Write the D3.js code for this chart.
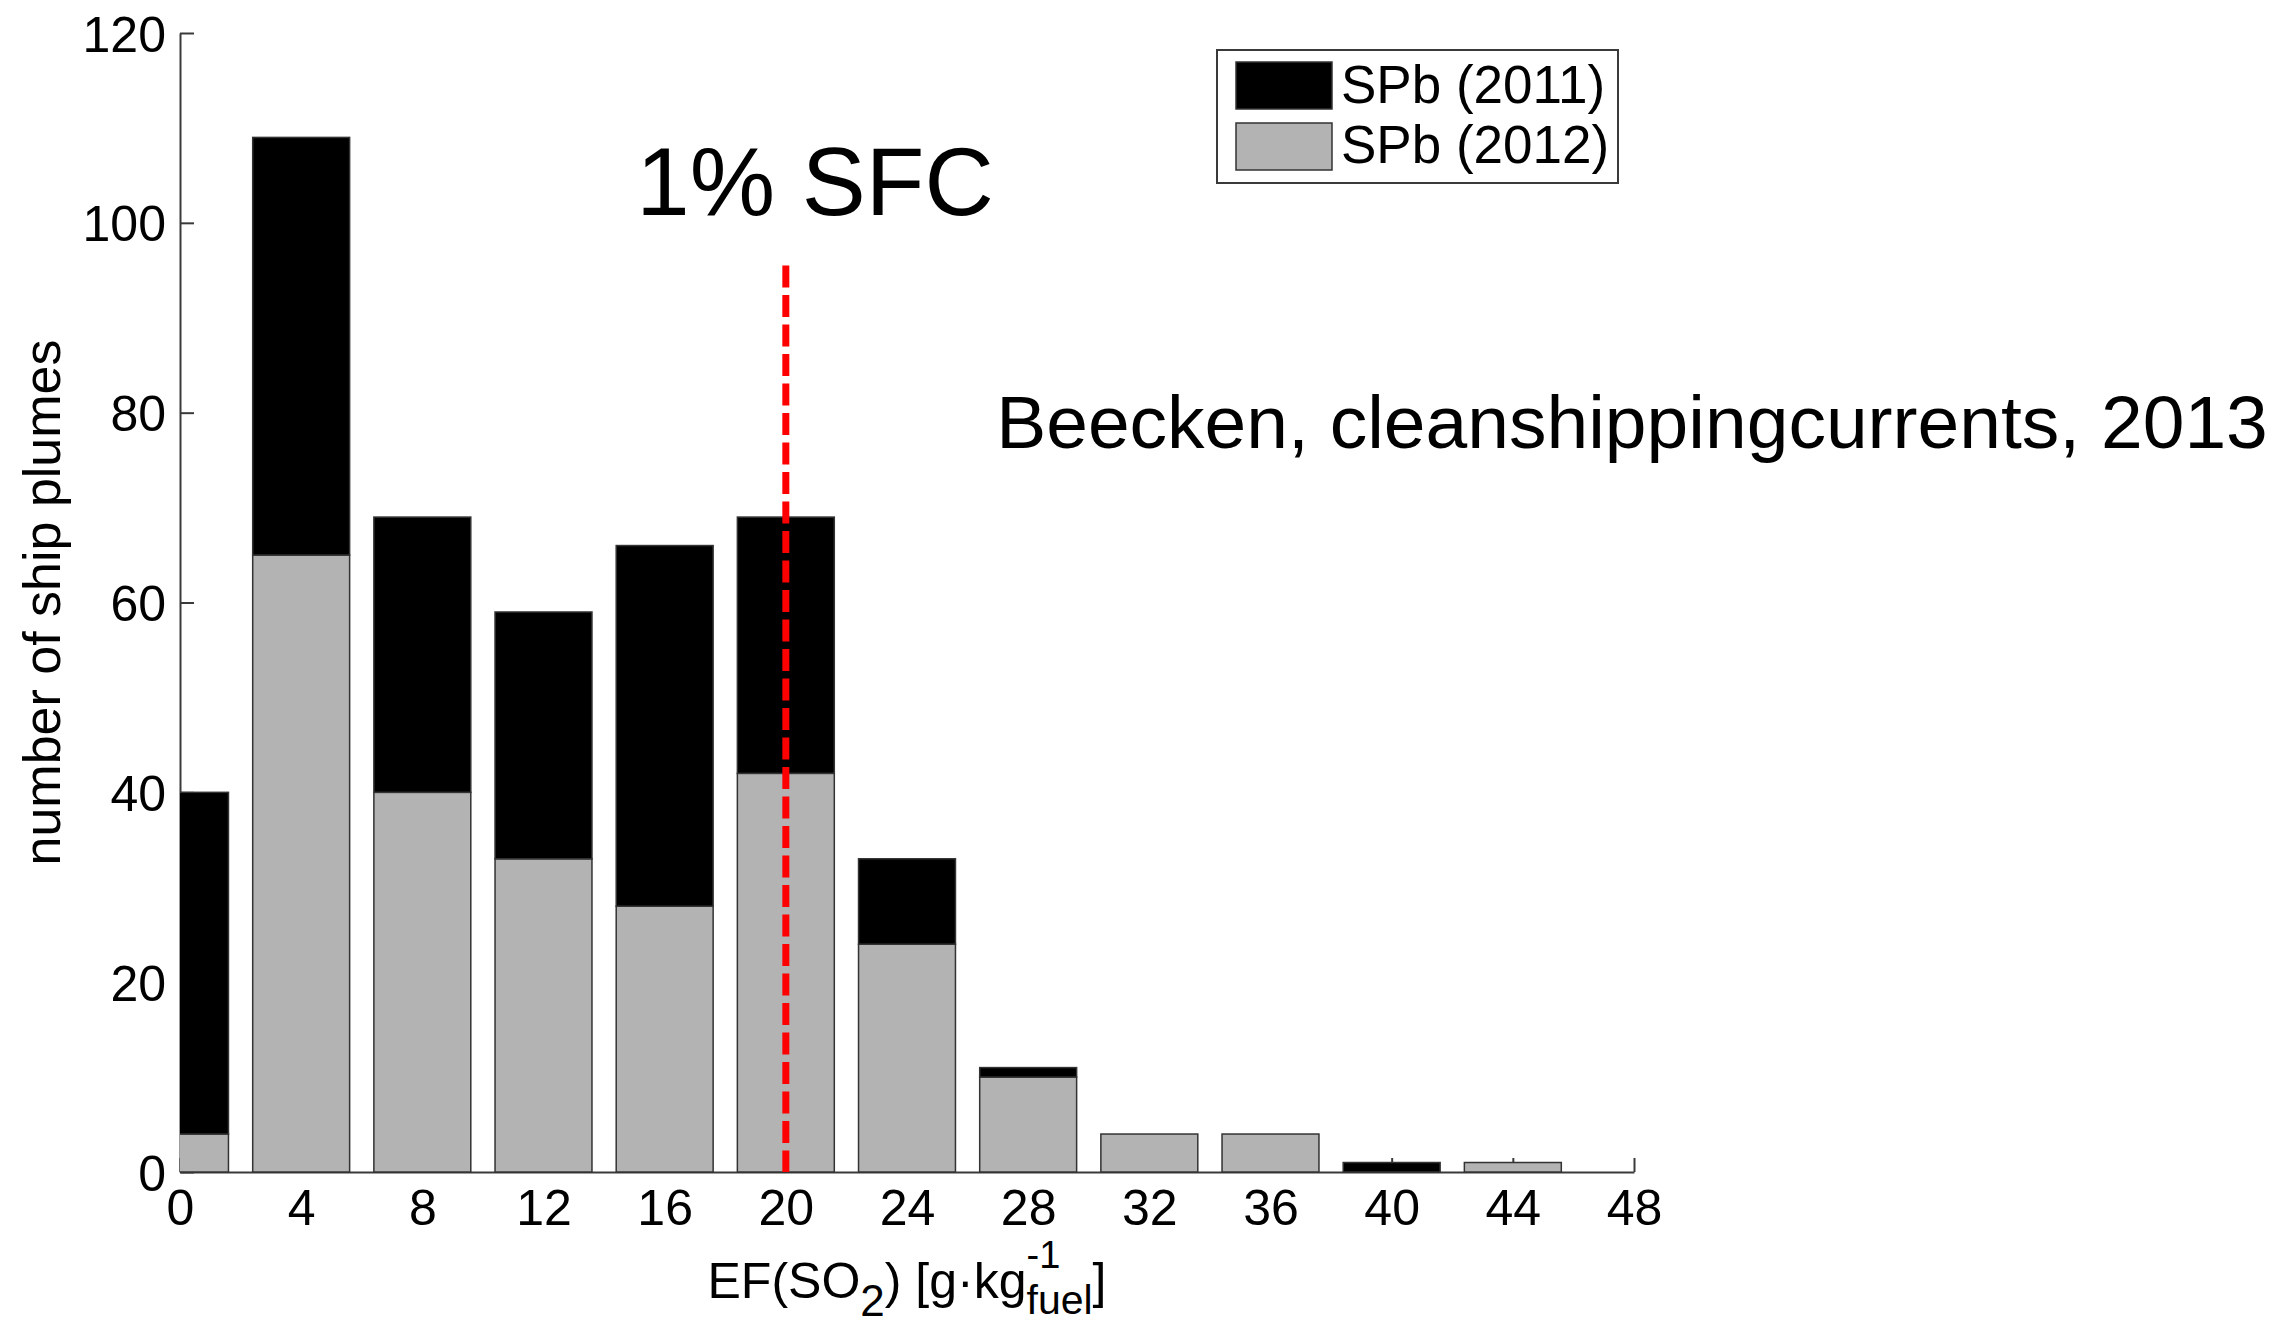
<!DOCTYPE html>
<html>
<head>
<meta charset="utf-8">
<script src="https://cdn.jsdelivr.net/npm/d3@7"></script>
<style>
  html, body { margin: 0; padding: 0; background: #fff; }
  svg { display: block; }
  text { font-family: "Liberation Sans", Arial, Helvetica, sans-serif; fill: #000; }
</style>
</head>
<body>
<svg id="chart" width="2296" height="1328"></svg>
<script>
// Histogram of SO2 emission factors, St. Petersburg ship plumes
const binCenters = [0, 4, 8, 12, 16, 20, 24, 28, 32, 36, 40, 44];
const plumes2011 = [36, 44, 29, 26, 38, 27, 9, 1, 0, 0, 1, 0];
const plumes2012 = [4, 65, 40, 33, 28, 42, 24, 10, 4, 4, 0, 1];
const seriesNames = ["SPb (2011)", "SPb (2012)"];
const seriesColors = ["#000000", "#b3b3b3"];
const xTicks = [0, 4, 8, 12, 16, 20, 24, 28, 32, 36, 40, 44, 48];
const yTicks = [0, 20, 40, 60, 80, 100, 120];
const sfcLimit = 20;      // EF(SO2) for 1% sulphur fuel content
const sfcLineTop = 95.5;
const binWidth = 3.2;

const svg = d3.select("#chart");
const plotLeft = 180, plotRight = 1634, plotTop = 33, plotBottom = 1172;

const x = d3.scaleLinear().domain([0, 48]).range([plotLeft, plotRight]);
const y = d3.scaleLinear().domain([0, 120]).range([plotBottom, plotTop]);

const axisColor = "#3a3a3a";
const tickFont = 50;

// axes (drawn beneath the bars)
const xAxis = svg.append("g")
  .attr("transform", `translate(0,${plotBottom})`)
  .call(d3.axisBottom(x).tickValues(xTicks).tickSizeInner(-14).tickSizeOuter(0).tickPadding(24));
const yAxis = svg.append("g")
  .attr("transform", `translate(${plotLeft},0)`)
  .call(d3.axisLeft(y).tickValues(yTicks).tickSizeInner(-14).tickSizeOuter(0).tickPadding(14));

[xAxis, yAxis].forEach(g => {
  g.select(".domain").attr("stroke", axisColor).attr("stroke-width", 2);
  g.selectAll(".tick line").attr("stroke", axisColor).attr("stroke-width", 2);
  g.selectAll(".tick text")
    .attr("font-family", '"Liberation Sans", Arial, sans-serif')
    .attr("font-size", tickFont).attr("fill", "#000");
});
xAxis.selectAll(".tick text").attr("dy", "0.71em").attr("y", 17);
yAxis.selectAll(".tick text").attr("dy", "0.36em");

// stacked bars: 2012 at the base, 2011 on top
const rows = binCenters.map((c, i) => ({ center: c, y2011: plumes2011[i], y2012: plumes2012[i] }));
const stack = d3.stack().keys(["y2012", "y2011"]);
const layers = stack(rows);
const colorOf = { y2011: seriesColors[0], y2012: seriesColors[1] };

svg.append("clipPath").attr("id", "plot-clip")
  .append("rect")
  .attr("x", x(0)).attr("y", 0)
  .attr("width", x(48) - x(0)).attr("height", plotBottom + 1);

const barsG = svg.append("g").attr("clip-path", "url(#plot-clip)");
layers.forEach(layer => {
  barsG.append("g")
    .selectAll("rect")
    .data(layer.filter(d => d[1] - d[0] > 0))
    .join("rect")
    .attr("x", d => x(d.data.center - binWidth / 2))
    .attr("width", d => x(d.data.center + binWidth / 2) - x(d.data.center - binWidth / 2))
    .attr("y", d => y(d[1]))
    .attr("height", d => y(d[0]) - y(d[1]))
    .attr("fill", colorOf[layer.key])
    .attr("stroke", "#333")
    .attr("stroke-width", 1.5);
});

// 1% sulphur fuel content reference line
svg.append("line")
  .attr("x1", x(sfcLimit)).attr("x2", x(sfcLimit))
  .attr("y1", y(sfcLineTop)).attr("y2", y(0))
  .attr("stroke", "#ff0000")
  .attr("stroke-width", 7)
  .attr("stroke-dasharray", "22 7.5");

svg.append("text")
  .attr("x", 815).attr("y", 215)
  .attr("text-anchor", "middle")
  .attr("font-size", 96)
  .text("1% SFC");

svg.append("text")
  .attr("x", 1632).attr("y", 448)
  .attr("text-anchor", "middle")
  .attr("font-size", 75)
  .text("Beecken, cleanshippingcurrents, 2013");

// y axis title
svg.append("text")
  .attr("transform", `translate(60,${(plotTop + plotBottom) / 2}) rotate(-90)`)
  .attr("text-anchor", "middle")
  .attr("font-size", 52)
  .text("number of ship plumes");

// x axis title with sub/superscripts, laid out piece by piece and centred
const xt = svg.append("g");
const pieces = [
  { t: "EF(SO", size: 50, base: 0 },
  { t: "2", size: 44, base: 18 },
  { t: ") [g\u00B7kg", size: 50, base: 0 },
  { t: "-1", size: 38, base: -30, stackWithNext: true },
  { t: "fuel", size: 41, base: 16 },
  { t: "]", size: 50, base: 0 }
];
let cursor = 0;
let pendingWidth = 0;
pieces.forEach(p => {
  const el = xt.append("text")
    .attr("x", cursor).attr("y", p.base)
    .attr("font-size", p.size)
    .text(p.t);
  const w = el.node().getComputedTextLength();
  if (p.stackWithNext) {
    pendingWidth = w;
  } else {
    cursor += Math.max(w, pendingWidth);
    pendingWidth = 0;
  }
});
xt.attr("transform", `translate(${(plotLeft + plotRight) / 2 - cursor / 2},1298)`);

// legend
const lg = svg.append("g");
lg.append("rect")
  .attr("x", 1217).attr("y", 50).attr("width", 401).attr("height", 133)
  .attr("fill", "#fff").attr("stroke", axisColor).attr("stroke-width", 2);
seriesNames.forEach((name, i) => {
  lg.append("rect")
    .attr("x", 1236).attr("y", 62 + i * 61).attr("width", 96).attr("height", 47)
    .attr("fill", seriesColors[i]).attr("stroke", "#333").attr("stroke-width", 1.5);
  lg.append("text")
    .attr("x", 1341).attr("y", 103 + i * 60)
    .attr("font-size", 53)
    .text(name);
});
</script>
</body>
</html>
